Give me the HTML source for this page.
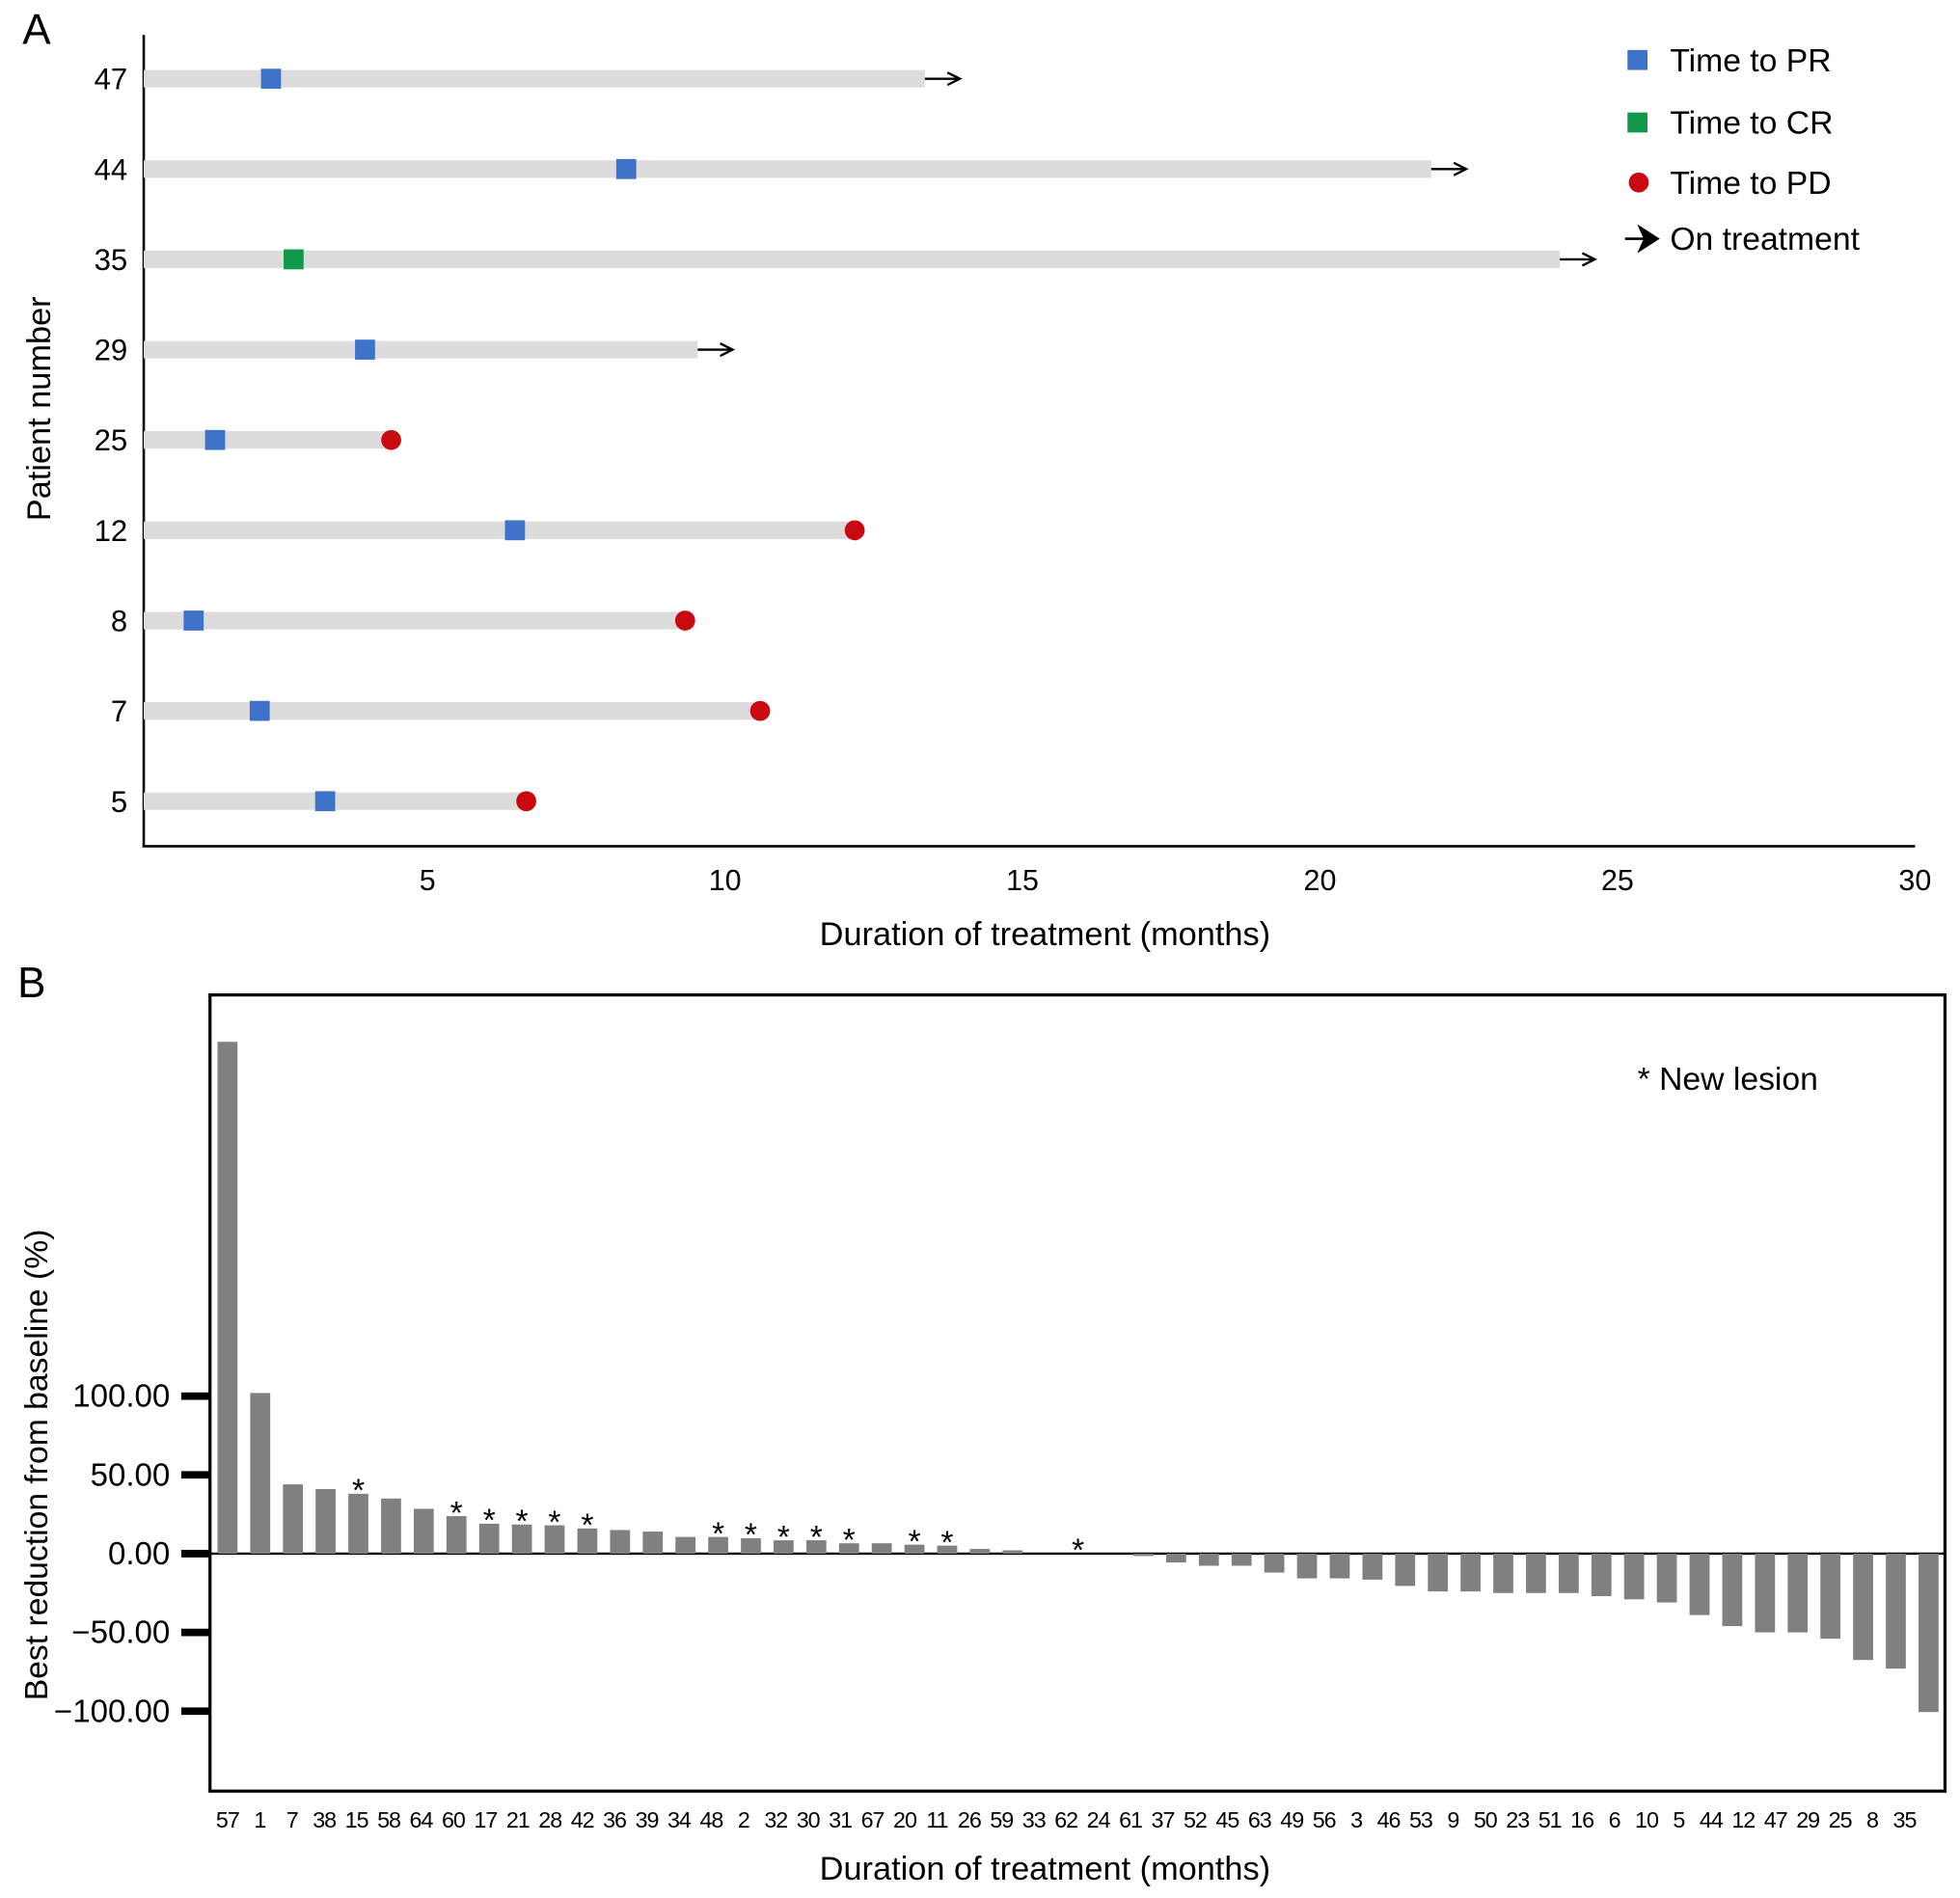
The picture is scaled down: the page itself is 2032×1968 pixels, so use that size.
<!DOCTYPE html>
<html><head><meta charset="utf-8"><style>
html,body{margin:0;padding:0;background:#fff;}
svg{display:block;font-family:"Liberation Sans",Arial,sans-serif;}
</style></head><body>
<svg id="fig" width="2032" height="1968" viewBox="0 0 1568 1518.5" preserveAspectRatio="none" xmlns="http://www.w3.org/2000/svg">
<g id="panelA"></g>
<g id="panelB"></g>
</svg>
<script>
// ---- Panel A data ----
const patientsA = ["47","44","35","29","25","12","8","7","5"];
const durationA = [13.36,21.87,24.03,9.54,4.39,12.18,9.33,10.59,6.66];
const responseTimeA = [2.37,8.34,2.75,3.95,1.43,6.47,1.07,2.18,3.28];
const responseTypeA = ["PR","PR","CR","PR","PR","PR","PR","PR","PR"];
const ongoingA = [true,true,true,true,false,false,false,false,false];
const xTicksA = [5,10,15,20,25,30];

// ---- Panel B data ----
const patientsB = ["57","1","7","38","15","58","64","60","17","21","28","42","36","39","34","48","2","32","30","31","67","20","11","26","59","33","62","24","61","37","52","45","63","49","56","3","46","53","9","50","23","51","16","6","10","5","44","12","47","29","25","8","35"];
const changeB = [325,102,44,41,38,35,28.5,23.8,19,18.5,18,16,15,14,10.6,10.6,9.8,8.5,8.5,6.6,6.6,5.7,5.1,3,2.1,0,0,0,-1.5,-5.6,-7.7,-7.7,-12,-15.7,-15.7,-16.5,-20.5,-24,-24,-25,-25,-25,-27,-29,-31,-39,-46,-50,-50,-54,-67.5,-73,-100.6];
const newLesionB = ["15","60","17","21","28","42","48","2","32","30","31","20","11","62"];
const yTicksB = [100,50,0,-50,-100];
const yTickLabelsB = ["100.00","50.00","0.00","\u221250.00","\u2212100.00"];

const NS="http://www.w3.org/2000/svg";
function mk(parent,tag,attrs,text){const e=document.createElementNS(NS,tag);for(const k in attrs)e.setAttribute(k,attrs[k]);if(text!==undefined)e.textContent=text;parent.appendChild(e);return e;}

// ===== Panel A =====
const A=document.getElementById('panelA');
const xA=v=>104+47.6*v;
const yA=i=>63+i*72.25;
let t=mk(A,'text',{x:18,y:35,'font-size':34},'A');


let l=mk(A,'line',{x1:115,y1:28,x2:115,y2:677,stroke:'#000','stroke-width':2});


l=mk(A,'line',{x1:114,y1:677,x2:1532,y2:677,stroke:'#000','stroke-width':2});


xTicksA.forEach(v=>{
  const e=mk(A,'text',{x:xA(v),y:712,'font-size':23.5,'text-anchor':'middle'},String(v));
  
  
});
t=mk(A,'text',{x:836,y:756,'font-size':26.5,'text-anchor':'middle'},'Duration of treatment (months)');


t=mk(A,'text',{x:0,y:0,'font-size':26.5,'text-anchor':'middle',transform:'translate(40,327) rotate(-90)'},'Patient number');


patientsA.forEach((p,i)=>{
  const y=yA(i);
  const lab=mk(A,'text',{x:102,y:y+8.5,'font-size':24,'text-anchor':'end'},p);
  
  
  const bar=mk(A,'rect',{x:115,y:y-7,width:xA(durationA[i])-115,height:14,fill:'#dcdcdc'});
  
  
  const rx=xA(responseTimeA[i]);
  const sq=mk(A,'rect',{x:rx-8,y:y-8,width:16,height:16,fill:responseTypeA[i]==='CR'?'#12984a':'#3f72c9'});
  
  
  const ex=xA(durationA[i]);
  if(ongoingA[i]){
    const ar=mk(A,'path',{d:`M${ex} ${y}H${ex+26}M${ex+18} ${y-5}L${ex+28} ${y}L${ex+18} ${y+5}`,stroke:'#000','stroke-width':1.8,fill:'none'});
    
    
  } else {
    const c=mk(A,'circle',{cx:ex,cy:y,r:8,fill:'#c8090f'});
    
    
  }
});
// legend
const lg=mk(A,'g',{});


let le=mk(lg,'rect',{x:1302,y:40,width:16,height:16,fill:'#3f72c9'});


le=mk(lg,'rect',{x:1302,y:90,width:16,height:16,fill:'#12984a'});


le=mk(lg,'circle',{cx:1311,cy:146,r:8,fill:'#c8090f'});


le=mk(lg,'path',{d:'M1300 191H1322M1312 182L1326 191L1312 200L1316 191Z',stroke:'#000','stroke-width':2,fill:'#000'});


[['Time to PR',57],['Time to CR',107],['Time to PD',155],['On treatment',200]].forEach(([s,y])=>{
  const e=mk(lg,'text',{x:1336,y:y,'font-size':26},s);
  
  
});

// ===== Panel B =====
const B=document.getElementById('panelB');
const y0=1243, k=1.26;
const yB=v=>y0-v*k;
const xB=i=>182+i*26.17;
t=mk(B,'text',{x:14,y:798,'font-size':34},'B');


let box=mk(B,'rect',{x:168,y:796,width:1388,height:637,fill:'none',stroke:'#000','stroke-width':2.5});


l=mk(B,'line',{x1:168,y1:y0,x2:1556,y2:y0,stroke:'#000','stroke-width':1.8});


yTicksB.forEach((v,i)=>{
  const tk=mk(B,'line',{x1:145,y1:yB(v),x2:168,y2:yB(v),stroke:'#000','stroke-width':6});
  
  
  const tl=mk(B,'text',{x:136,y:yB(v)+8.5,'font-size':25.5,'text-anchor':'end'},yTickLabelsB[i]);
  
  
});
t=mk(B,'text',{x:0,y:0,'font-size':26,'text-anchor':'middle',transform:'translate(38,1172) rotate(-90)'},'Best reduction from baseline (%)');


t=mk(B,'text',{x:836,y:1504,'font-size':26.5,'text-anchor':'middle'},'Duration of treatment (months)');


t=mk(B,'text',{x:1310,y:872,'font-size':26},'* New lesion');


patientsB.forEach((p,i)=>{
  const v=changeB[i], x=xB(i);
  const top=Math.min(yB(v),y0), h=Math.abs(yB(v)-y0);
  const r=mk(B,'rect',{x:x-8,y:top,width:16,height:Math.max(h,0.01),fill:'#808080'});
  
  
  const lab=mk(B,'text',{x:182+i*25.8,y:1462,'font-size':18,'text-anchor':'middle','letter-spacing':-0.8},p);
  
  
  if(newLesionB.includes(p)){
    const s=mk(B,'text',{x:x,y:top+6,'font-size':26,'text-anchor':'middle'},'*');
    
    
  }
});
</script>
</body></html>
